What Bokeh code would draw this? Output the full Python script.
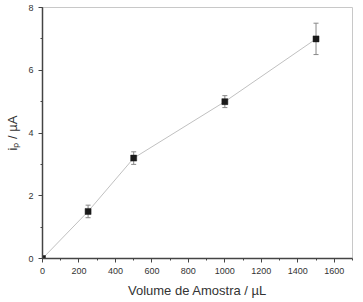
from bokeh.plotting import figure
from bokeh.models import (Range1d, SingleIntervalTicker, ColumnDataSource, Whisker,
                          TeeHead)
from bokeh.embed import file_html
from bokeh.resources import INLINE

# data
volume = [0, 250, 500, 1000, 1500]
current = [0.0, 1.5, 3.2, 5.0, 7.0]
error = [0.0, 0.2, 0.2, 0.19, 0.5]

x_label = "Volume de Amostra / µL"
y_label = "i\u209a / µA"

FONT = "Liberation Sans"
TXT = "#333333"

p = figure(width=363, height=302, output_backend="svg", toolbar_location=None,
           x_range=Range1d(0, 1700), y_range=Range1d(0, 8),
           min_border_left=42, min_border_right=11, min_border_top=7, min_border_bottom=44)
p.background_fill_color = "white"
p.border_fill_color = "white"
p.outline_line_color = "#c8c8c8"
p.outline_line_width = 1
p.xgrid.visible = False
p.ygrid.visible = False

p.xaxis.ticker = SingleIntervalTicker(interval=200, num_minor_ticks=2)
p.yaxis.ticker = SingleIntervalTicker(interval=2, num_minor_ticks=2)
for ax in (p.xaxis, p.yaxis):
    ax.axis_line_color = "#444444"
    ax.axis_line_width = 1.5
    ax.major_tick_line_color = "#444444"
    ax.minor_tick_line_color = "#444444"
    ax.major_tick_in = 0
    ax.major_tick_out = 4
    ax.minor_tick_in = 0
    ax.minor_tick_out = 2
    ax.major_label_text_font = FONT
    ax.major_label_text_font_size = "9px"
    ax.major_label_text_color = TXT
    ax.major_label_standoff = 5
    ax.axis_label_text_font = FONT
    ax.axis_label_text_font_size = "13px"
    ax.axis_label_text_font_style = "normal"
    ax.axis_label_text_color = TXT

p.xaxis.axis_label = x_label
p.xaxis.axis_label_standoff = 6
p.yaxis.axis_label = y_label
p.yaxis.axis_label_standoff = 5

src = ColumnDataSource(dict(x=volume, y=current,
                            upper=[c + e for c, e in zip(current, error)],
                            lower=[c - e for c, e in zip(current, error)]))

p.line("x", "y", source=src, line_color="#c0c0c0", line_width=1)
w = Whisker(source=src, base="x", upper="upper", lower="lower",
            line_color="#888888", line_width=1,
            upper_head=TeeHead(size=5, line_color="#888888", line_width=1),
            lower_head=TeeHead(size=5, line_color="#888888", line_width=1))
p.add_layout(w)
p.scatter("x", "y", source=src, marker="square", size=6,
          fill_color="#1a1a1a", line_color="#1a1a1a", line_width=0.5)

open("out.html", "w").write(file_html(p, INLINE))
